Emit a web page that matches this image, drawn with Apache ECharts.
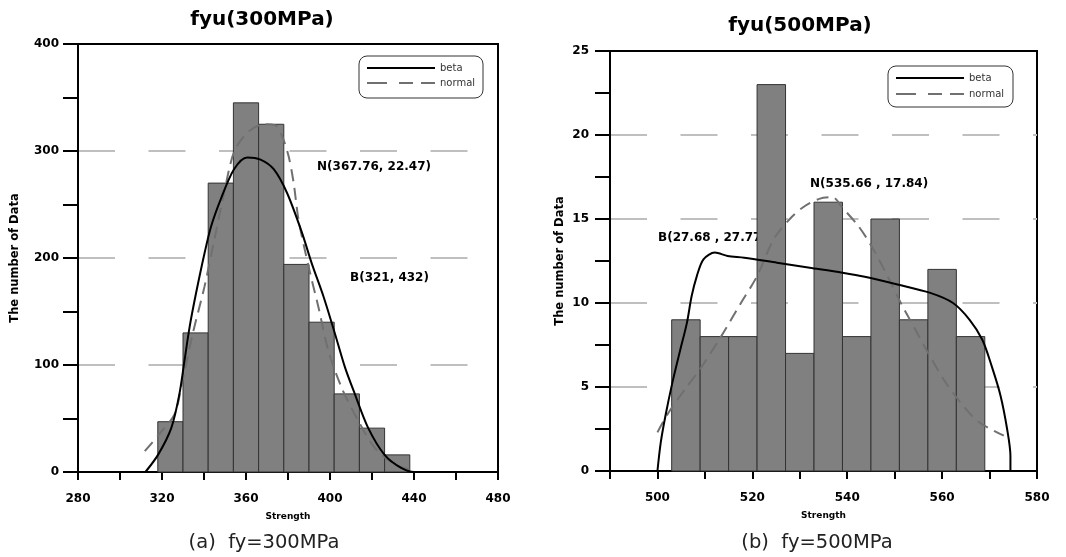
<!DOCTYPE html>
<html>
<head>
<meta charset="utf-8">
<script src="https://cdn.jsdelivr.net/npm/echarts@6/dist/echarts.min.js"></script>
<style>
  html, body { margin: 0; padding: 0; background: #fff; }
  #chart { width: 1066px; height: 557px; }
</style>
</head>
<body>
<div id="chart"></div>
<script>
// fy = 300MPa histogram (bin edges + counts) and fitted curves
const edgesA = [318, 330, 342, 354, 366, 378, 390, 402, 414, 426, 438];
const countsA = [47, 130, 270, 345, 325, 194, 140, 73, 41, 16];
const betaA = [
  [312.1, 0], [318.1, 16], [324.4, 41], [328.3, 73], [330.7, 104], [333.1, 135],
  [336.2, 167], [340.2, 204], [343.3, 229], [348, 255], [354.3, 283], [360.6, 294],
  [366.9, 292], [373.2, 283], [379.5, 261], [386.6, 224], [391.3, 195], [396.9, 164],
  [402.4, 129], [407.1, 98], [411.8, 73], [418.1, 41.5], [426, 16], [433.9, 3.8],
  [440.2, 0], [444, 0]
];
const normalA = [
  [311.8, 19.5], [319, 36], [326, 54], [329.1, 79], [334.6, 129], [340.2, 173],
  [344.9, 217], [349.6, 261], [354.3, 299], [360.6, 317], [368.5, 325], [374, 324],
  [377.2, 314], [380.3, 295], [382.7, 270], [385, 236], [389.8, 192], [394.5, 154],
  [399.2, 113.5], [405.5, 79], [413.4, 48], [421.3, 22.6], [430.7, 7], [438.6, 2.2]
];
const xLabelsA = [280, 320, 360, 400, 440, 480];

// fy = 500MPa
const edgesB = [503, 509, 515, 521, 527, 533, 539, 545, 551, 557, 563, 569];
const countsB = [9, 8, 8, 23, 7, 16, 8, 15, 9, 12, 8];
const betaB = [
  [500, 0], [500.7, 1.7], [501.7, 3.3], [503.1, 5.2], [504.8, 7.2], [506.2, 8.8],
  [507.2, 10.4], [508.3, 11.6], [509.7, 12.6], [512.1, 13.0], [514.8, 12.8],
  [518.3, 12.7], [525.2, 12.4], [532.1, 12.1], [539, 11.8], [543.7, 11.56],
  [550.6, 11.1], [557.5, 10.6], [562.3, 10.0], [565.8, 9.0], [568.5, 7.8],
  [570.5, 6.2], [572.3, 4.5], [573.7, 2.5], [574.4, 0.9], [574.4, 0]
];
const normalB = [
  [500, 2.3], [502.4, 3.5], [505.9, 4.9], [509.3, 6.2], [513.4, 8.0], [517.6, 10.0],
  [521, 11.6], [524.5, 13.8], [527.9, 15.0], [530.7, 15.7], [534.1, 16.2], [536.9, 16.3],
  [538.9, 15.7], [542.3, 14.6], [545.1, 13.4], [548.5, 11.6], [551.3, 10.0], [554, 8.6],
  [557.5, 6.8], [560.9, 5.2], [564.4, 3.9], [567.8, 2.9], [573, 2.1]
];
const xLabelsB = [500, 520, 540, 560, 580];

const FONT = 'DejaVu Sans';

function toBins(edges, counts) {
  return counts.map((c, i) => [edges[i], edges[i + 1], c]);
}

function renderBin(params, api) {
  const p0 = api.coord([api.value(0), 0]);
  const p1 = api.coord([api.value(1), api.value(2)]);
  return {
    type: 'rect',
    shape: { x: p0[0], y: p1[1], width: p1[0] - p0[0], height: p0[1] - p1[1] },
    style: { fill: '#808080', stroke: '#333', lineWidth: 1 }
  };
}

function xAxisOf(idx, min, max, interval, labels, minor) {
  return {
    type: 'value', gridIndex: idx, min: min, max: max, interval: interval,
    name: 'Strength', nameLocation: 'middle', nameGap: 40,
    nameTextStyle: { fontFamily: FONT, fontWeight: 'bold', fontSize: 9, color: '#000' },
    axisLine: { lineStyle: { color: '#000', width: 2 } },
    axisTick: { length: 8, lineStyle: { color: '#000', width: 2 } },
    minorTick: { show: minor, splitNumber: 2, length: 8, lineStyle: { color: '#000', width: 2 } },
    axisLabel: {
      margin: 21, fontFamily: FONT, fontWeight: 'bold', fontSize: 12, color: '#000',
      formatter: (v) => (labels.indexOf(v) >= 0 ? String(v) : '')
    },
    splitLine: { show: false }
  };
}

function yAxisOf(idx, max, interval, gap, margin) {
  return {
    type: 'value', gridIndex: idx, min: 0, max: max, interval: interval,
    name: 'The number of Data', nameLocation: 'middle', nameGap: gap,
    nameTextStyle: { fontFamily: FONT, fontWeight: 'bold', fontSize: 11.5, color: '#000' },
    axisLine: { show: true, lineStyle: { color: '#000', width: 2 } },
    axisTick: { show: true, length: 15, lineStyle: { color: '#000', width: 2 } },
    minorTick: { show: true, splitNumber: 2, length: 15, lineStyle: { color: '#000', width: 2 } },
    axisLabel: { margin: margin, fontFamily: FONT, fontWeight: 'bold', fontSize: 12, color: '#000' },
    splitLine: {
      show: true, showMinLine: false, showMaxLine: false,
      lineStyle: { color: '#bfbfbf', width: 2, type: [37, 33.5] }
    }
  };
}

function lineOf(name, data, idx, dashed) {
  return {
    name: name, type: 'line', data: data, xAxisIndex: idx, yAxisIndex: idx,
    smooth: 0.3, symbol: 'none', z: 4,
    lineStyle: dashed ? { color: '#707070', width: 2, type: [12, 7] } : { color: '#000', width: 2 }
  };
}

function txt(x, y, text, size, bold, align, color) {
  return {
    type: 'text', x: x, y: y, silent: true,
    style: {
      text: text, fontFamily: FONT, fontSize: size, fontWeight: bold ? 'bold' : 'normal',
      fill: color || '#000', align: align || 'left', verticalAlign: 'middle'
    }
  };
}

// boxed legend like the original plot (line sample + name)
function legendBox(x, y, w, h, rowGap) {
  const r1 = y + 12, r2 = r1 + rowGap;
  return {
    type: 'group', silent: true,
    children: [
      { type: 'rect', shape: { x: x, y: y, width: w, height: h, r: 8 },
        style: { fill: '#fff', stroke: '#333', lineWidth: 1 } },
      { type: 'line', shape: { x1: x + 8, y1: r1, x2: x + 76, y2: r1 },
        style: { stroke: '#000', lineWidth: 2 } },
      { type: 'line', shape: { x1: x + 8, y1: r2, x2: x + 76, y2: r2 },
        style: { stroke: '#707070', lineWidth: 2, lineDash: [20, 12, 14, 8] } },
      txt(x + 81, r1, 'beta', 10, false, 'left', '#333'),
      txt(x + 81, r2, 'normal', 10, false, 'left', '#333')
    ]
  };
}

const chart = echarts.init(document.getElementById('chart'));
chart.setOption({
  animation: false,
  grid: [
    { left: 78, top: 44, width: 420, height: 428, show: true, borderColor: '#000', borderWidth: 2 },
    { left: 610, top: 51, width: 427, height: 420, show: true, borderColor: '#000', borderWidth: 2 }
  ],
  xAxis: [
    xAxisOf(0, 280, 480, 40, xLabelsA, true),
    xAxisOf(1, 490, 580, 10, xLabelsB, false)
  ],
  yAxis: [
    yAxisOf(0, 400, 100, 57, 19),
    yAxisOf(1, 25, 5, 44, 21)
  ],
  series: [
    { type: 'custom', xAxisIndex: 0, yAxisIndex: 0, data: toBins(edgesA, countsA),
      renderItem: renderBin, encode: { x: [0, 1], y: 2 }, z: 2 },
    lineOf('normal', normalA, 0, true),
    lineOf('beta', betaA, 0, false),
    { type: 'custom', xAxisIndex: 1, yAxisIndex: 1, data: toBins(edgesB, countsB),
      renderItem: renderBin, encode: { x: [0, 1], y: 2 }, z: 2 },
    lineOf('normal', normalB, 1, true),
    lineOf('beta', betaB, 1, false)
  ],
  graphic: [
    txt(262, 20, 'fyu(300MPa)', 20, true, 'center'),
    txt(800, 26, 'fyu(500MPa)', 20, true, 'center'),
    txt(317, 167, 'N(367.76, 22.47)', 12, true),
    txt(350, 278, 'B(321, 432)', 12, true),
    txt(810, 184, 'N(535.66 , 17.84)', 12, true),
    txt(658, 238, 'B(27.68 , 27.77', 12, true),
    txt(264, 543, '(a)  fy=300MPa', 19.5, false, 'center', '#222'),
    txt(817, 543, '(b)  fy=500MPa', 19.5, false, 'center', '#222'),
    legendBox(359, 56, 124, 42, 15),
    legendBox(888, 66, 125, 41, 16)
  ]
});
</script>
</body>
</html>
